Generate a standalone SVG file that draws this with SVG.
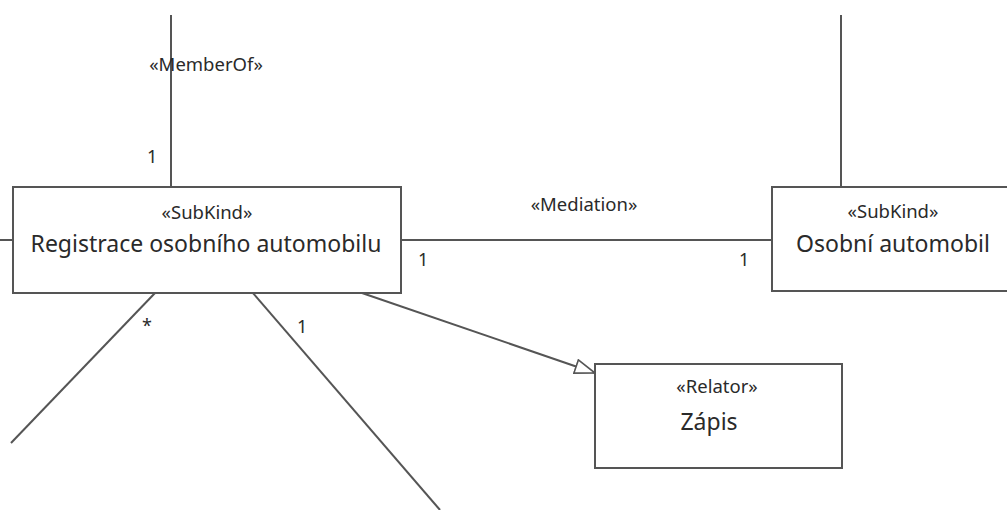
<svg xmlns="http://www.w3.org/2000/svg" width="1007" height="510" viewBox="0 0 1007 510">
  <style>
    .box { fill: #ffffff; stroke: #555555; stroke-width: 2; }
    .edge { fill: none; stroke: #555555; stroke-width: 2; }
    .st { font-family: "Noto Sans", "Open Sans", sans-serif; font-size: 18.5px; fill: #2a2a2a; text-anchor: middle; }
    .nm { font-family: "Noto Sans", "Open Sans", sans-serif; font-size: 23px; fill: #2a2a2a; text-anchor: middle; }
    .lbl { font-family: "Noto Sans", "Open Sans", sans-serif; font-size: 18px; fill: #2a2a2a; }
  </style>
  <defs>
    <marker id="gen" markerWidth="24" markerHeight="18" refX="21" refY="8" orient="auto" markerUnits="userSpaceOnUse">
      <path d="M1,1 L21,8 L1,15 Z" fill="#ffffff" stroke="#555555" stroke-width="1.6"/>
    </marker>
  </defs>
  <rect width="1007" height="510" fill="#ffffff"/>

  <g id="connectors">
    <line class="edge" x1="171" y1="15" x2="171" y2="187"/>
    <line class="edge" x1="841" y1="15" x2="841" y2="187"/>
    <line class="edge" x1="0" y1="240" x2="13" y2="240"/>
    <line class="edge" x1="401" y1="240" x2="772" y2="240"/>
    <line class="edge" x1="155" y1="293" x2="11" y2="443"/>
    <line class="edge" x1="253" y1="293" x2="440" y2="510"/>
    <line class="edge" x1="362" y1="293" x2="595" y2="373" marker-end="url(#gen)"/>
    <text class="st" x="206" y="71">«MemberOf»</text>
    <text class="lbl" x="147" y="163">1</text>
    <text class="st" x="584" y="211">«Mediation»</text>
    <text class="lbl" x="418" y="266">1</text>
    <text class="lbl" x="739" y="266">1</text>
    <text class="lbl" x="142" y="332">*</text>
    <text class="lbl" x="297" y="333">1</text>
  </g>

  <g id="registrace">
    <rect class="box" x="13" y="187" width="388" height="106"/>
    <text class="st" x="207" y="219">«SubKind»</text>
    <text class="nm" x="206" y="252">Registrace osobního automobilu</text>
  </g>

  <g id="osobni-automobil">
    <rect class="box" x="772" y="187" width="250" height="104"/>
    <text class="st" x="893" y="218">«SubKind»</text>
    <text class="nm" x="893" y="252">Osobní automobil</text>
  </g>

  <g id="zapis">
    <rect class="box" x="595" y="364" width="247" height="104"/>
    <text class="st" x="717" y="393">«Relator»</text>
    <text class="nm" x="709" y="430">Zápis</text>
  </g>
</svg>
